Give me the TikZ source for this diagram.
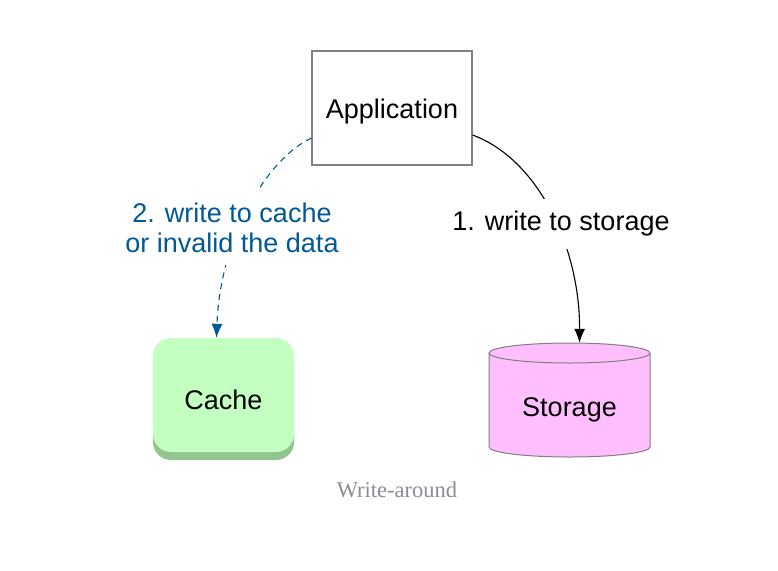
\documentclass[tikz,border=0pt]{standalone}
\usepackage{fontspec}
\setmainfont{Liberation Sans}
\newfontfamily\capfont{Liberation Serif}
\usetikzlibrary{arrows.meta}
\definecolor{appgray}{RGB}{128,128,128}
\definecolor{cachefill}{RGB}{194,255,192}
\definecolor{cacheshadow}{RGB}{146,196,142}
\definecolor{storfill}{RGB}{255,191,255}
\definecolor{linkblue}{RGB}{0,88,150}
\definecolor{capgray}{RGB}{140,140,150}
\begin{document}
\begin{tikzpicture}[x=1pt,y=1pt,
  txt/.style={font=\fontsize{27}{30}\selectfont},
  appbox/.style={draw=appgray, fill=white, line width=1.1pt, minimum width=160pt, minimum height=114pt, inner sep=0pt, txt, text height=20pt, text depth=0pt},
  cachebox/.style={fill=cachefill, rounded corners=18pt, minimum width=141pt, minimum height=114pt, inner sep=0pt, txt, text height=29.5pt, text depth=0pt},
  lbl/.style={fill=white, txt, align=center, inner xsep=2pt, inner ysep=12pt},
  conn/.style={line width=1.1pt, -{Latex[length=14pt,width=11pt]}}
]
\useasboundingbox (0,0) rectangle (778,-570);

% Application
\node[appbox] (app) at (392,-108) {Application};

% Cache (shadow then body)
\fill[cacheshadow, rounded corners=18pt] (153,-346) rectangle (294,-460);
\node[cachebox] (cache) at (223.5,-395) {Cache};

% Storage cylinder
\node[minimum width=161pt, minimum height=114pt, inner sep=0pt] (stor) at (569.5,-400) {};
\draw[appgray, fill=storfill, line width=1pt]
  (489,-353) -- (489,-447) arc[start angle=180, end angle=360, x radius=80.5, y radius=10]
  -- (650,-353) arc[start angle=0, end angle=180, x radius=80.5, y radius=10] -- cycle;
\draw[appgray, line width=1pt] (489,-353) arc[start angle=180, end angle=360, x radius=80.5, y radius=10];
\node[txt] (storlbl) at (569.5,-410) {Storage};

% connectors
\draw[conn, black] ([yshift=-27pt]app.east) .. controls (540,-160) and (580,-250) .. ([xshift=10pt]stor.north);
\draw[conn, linkblue, dash pattern=on 6pt off 5pt] ([yshift=-30pt]app.west) .. controls (265,-160) and (220,-240) .. ([xshift=-7pt]cache.north);

% labels
\node[lbl] (l1) at (561,-224) {1. write to storage};
\node[lbl, text=linkblue] (l2) at (232,-228) {2. write to cache\\or invalid the data};

% caption
\node[font=\capfont\fontsize{22.5}{26}\selectfont, text=capgray] (cap) at (397,-490) {Write-around};
\end{tikzpicture}
\end{document}
